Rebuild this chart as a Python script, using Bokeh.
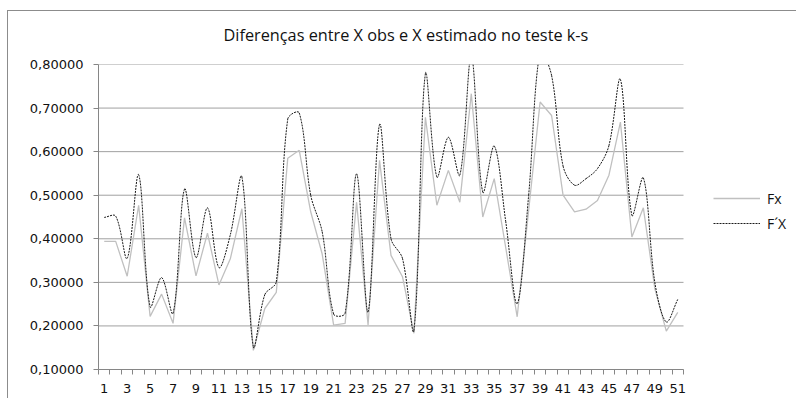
from bokeh.plotting import figure
from bokeh.models import (Range1d, FixedTicker, CustomJSTickFormatter, Legend, LegendItem,
                          ColumnDataSource)
from bokeh.embed import file_html
from bokeh.resources import INLINE
import numpy as np

categories = list(range(1, 52))
fx = [0.394, 0.394, 0.314, 0.477, 0.222, 0.273, 0.206, 0.448, 0.315, 0.413,
      0.294, 0.355, 0.469, 0.144, 0.240, 0.277, 0.585, 0.603, 0.462, 0.365,
      0.202, 0.206, 0.484, 0.202, 0.580, 0.362, 0.313, 0.183, 0.679, 0.477,
      0.557, 0.484, 0.733, 0.450, 0.538, 0.380, 0.221, 0.465, 0.714, 0.683,
      0.500, 0.462, 0.468, 0.488, 0.546, 0.668, 0.404, 0.471, 0.286, 0.188,
      0.231]
fpx = [0.449, 0.452, 0.355, 0.547, 0.244, 0.311, 0.229, 0.514, 0.357, 0.471,
       0.334, 0.410, 0.542, 0.152, 0.272, 0.301, 0.675, 0.689, 0.500, 0.416,
       0.227, 0.229, 0.549, 0.232, 0.662, 0.400, 0.355, 0.190, 0.779, 0.542,
       0.633, 0.546, 0.820, 0.507, 0.613, 0.440, 0.251, 0.500, 0.830, 0.775,
       0.567, 0.523, 0.538, 0.561, 0.614, 0.766, 0.454, 0.540, 0.300, 0.209,
       0.261]
x_tick_labels = list(range(1, 52, 2))
y_ticks = [0.1, 0.2, 0.3, 0.4, 0.5, 0.6, 0.7, 0.8]
title_text = "Diferenças entre X obs e X estimado no teste k-s"
series_names = ["Fx", "F\u00b4X"]

# layout (pixels): frame from x=98 to the right edge; data area 585 px wide
W, H = 796, 398
left, top, bottom = 98, 64, 29
data_w, data_h = 585.0, float(H - top - bottom)
x_lo = categories[0] - 0.5
x_hi = categories[-1] + 0.5
y_lo, y_hi = y_ticks[0], y_ticks[-1]
x_end = x_lo + (x_hi - x_lo) * (W - left) / data_w

p = figure(width=W, height=H, output_backend="svg", toolbar_location=None,
           x_range=Range1d(x_lo, x_end), y_range=Range1d(y_lo, y_hi),
           min_border_left=left, min_border_right=0, min_border_top=top,
           min_border_bottom=bottom)
# chart-area border (left and top edges) drawn behind the transparent canvas
p.styles = {
    "background-color": "white",
    "background-image": "linear-gradient(#8c8c8c, #8c8c8c), linear-gradient(#8c8c8c, #8c8c8c)",
    "background-size": "1px 100%, 100% 1px",
    "background-position": "7px 10px, 7px 10px",
    "background-repeat": "no-repeat",
}
p.outline_line_color = None
p.background_fill_color = "white"
p.border_fill_color = None

p.title.text = title_text
p.title.align = "left"
p.title.vertical_align = "bottom"
p.title.offset = 125
p.title.standoff = 38
p.title.text_font = "Open Sans"
p.title.text_font_size = "16.3px"
p.title.text_font_style = "normal"
p.title.text_color = "#111111"

# x axis
p.xaxis.bounds = (x_lo, x_hi)
p.xaxis.ticker = FixedTicker(ticks=x_tick_labels,
                             minor_ticks=[c - 0.5 for c in categories] + [x_hi])
p.xaxis.major_tick_out = 0
p.xaxis.major_tick_in = 0
p.xaxis.minor_tick_out = 5
p.xaxis.minor_tick_in = 0
p.xaxis.minor_tick_line_color = "#868686"
p.xaxis.axis_line_color = "#868686"
p.xaxis.major_label_text_font = "DejaVu Sans"
p.xaxis.major_label_text_font_size = "13px"
p.xaxis.major_label_text_color = "#111111"
p.xaxis.major_label_standoff = 9
p.xgrid.grid_line_color = None

# y axis
p.yaxis.ticker = FixedTicker(ticks=y_ticks, minor_ticks=[])
p.yaxis.formatter = CustomJSTickFormatter(code="return tick.toFixed(5).replace('.', ',');")
p.yaxis.major_tick_out = 5
p.yaxis.major_tick_in = 0
p.yaxis.major_tick_line_color = "#868686"
p.yaxis.axis_line_color = "#868686"
p.yaxis.major_label_text_font = "DejaVu Sans"
p.yaxis.major_label_text_font_size = "13px"
p.yaxis.major_label_text_color = "#111111"
p.yaxis.major_label_standoff = 10
p.ygrid.grid_line_color = None

# horizontal gridlines only across the category area
p.segment(x0=[x_lo] * len(y_ticks), x1=[x_hi] * len(y_ticks), y0=y_ticks, y1=y_ticks,
          line_color="#a0a0a0", line_width=1)

# Fx straight line
r1 = p.line(categories, fx, line_color="#c0c0c0", line_width=1.3)

# F'X smoothed like Excel: cubic Bezier with control arms scaled by segment lengths
xs = np.array(categories, dtype=float)
ys = np.array(fpx, dtype=float)
kx = data_w / (x_hi - x_lo)
ky = data_h / (y_hi - y_lo)
n = len(xs)
xp = np.concatenate([[xs[0]], xs, [xs[-1]]])
yp = np.concatenate([[ys[0]], ys, [ys[-1]]])
seg = np.hypot(np.diff(xp) * kx, np.diff(yp) * ky)  # lengths of n+1 segments (padded)
seg = np.where(seg == 0, 1e-9, seg)
x0, y0, x1, y1 = xs[:-1], ys[:-1], xs[1:], ys[1:]
d_prev, d_cur, d_next = seg[0:n - 1], seg[1:n], seg[2:n + 1]
f1 = d_cur / (d_prev + d_cur) / 3.0
f2 = d_cur / (d_cur + d_next) / 3.0
src = ColumnDataSource(dict(
    x0=x0, y0=y0, x1=x1, y1=y1,
    cx0=x0 + (xp[2:n + 1] - xp[0:n - 1]) * f1,
    cy0=y0 + (yp[2:n + 1] - yp[0:n - 1]) * f1,
    cx1=x1 - (xp[3:n + 2] - xp[1:n]) * f2,
    cy1=y1 - (yp[3:n + 2] - yp[1:n]) * f2,
))
r2 = p.bezier(x0="x0", y0="y0", x1="x1", y1="y1", cx0="cx0", cy0="cy0",
              cx1="cx1", cy1="cy1", source=src, line_color="#1a1a1a",
              line_width=1, line_dash="2 1")

legend = Legend(items=[LegendItem(label=series_names[0], renderers=[r1]),
                       LegendItem(label=series_names[1], renderers=[r2])],
                location=(615, 136), orientation="vertical")
legend.border_line_color = None
legend.background_fill_alpha = 0
legend.glyph_width = 47
legend.glyph_height = 20
legend.label_standoff = 7
legend.spacing = 5
legend.padding = 0
legend.margin = 0
legend.label_text_font = "Open Sans"
legend.label_text_font_size = "14px"
legend.label_text_color = "#111111"
p.add_layout(legend)

open("out.html", "w").write(file_html(p, INLINE))
